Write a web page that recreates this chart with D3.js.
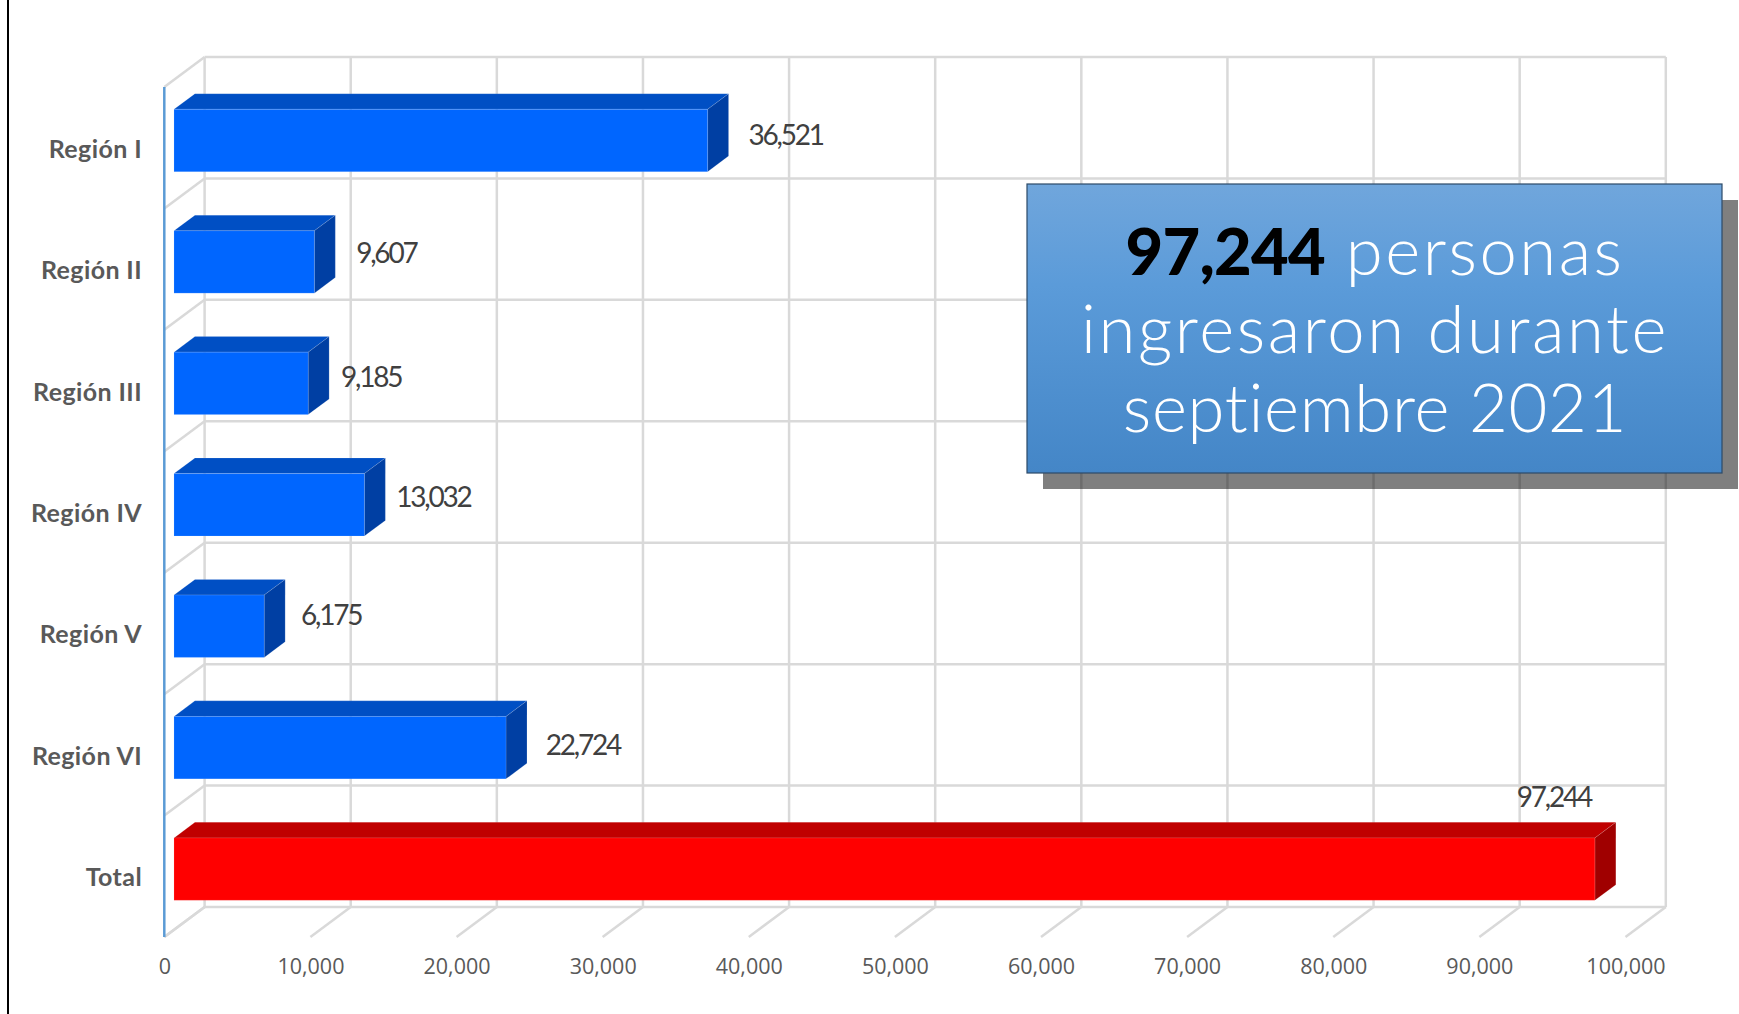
<!DOCTYPE html>
<html>
<head>
<meta charset="utf-8">
<script src="https://cdnjs.cloudflare.com/ajax/libs/d3/7.8.5/d3.min.js"></script>
<style>
html, body { margin: 0; padding: 0; background: #fff; }
svg { display: block; }
</style>
</head>
<body>
<svg id="chart" width="1739" height="1014"></svg>
<script>
// Horizontal 3D-look bar chart, people per region
const categories = ['Región I', 'Región II', 'Región III', 'Región IV', 'Región V', 'Región VI', 'Total'];
const values = [36521, 9607, 9185, 13032, 6175, 22724, 97244];
const xTicks = [0, 10000, 20000, 30000, 40000, 50000, 60000, 70000, 80000, 90000, 100000];

const DEPTH_X = 40.3, DEPTH_Y = 30;   // oblique offset front plane -> back wall
const BAR_FRONT = 0.24, BAR_BACK = 0.76;
const FONT_AXIS = '"Open Sans", "Noto Sans", sans-serif';
const FONT_GEO = 'Lato, "Open Sans", sans-serif';
const GRID = '#d9d9d9';

const svg = d3.select('#chart');

const x = d3.scaleLinear().domain([0, 100000]).range([164.3, 1625.5]);
const y = d3.scaleBand().domain(categories).range([87, 937]).paddingInner(0.486).paddingOuter(0.243);
const rows = d3.scaleLinear().domain([0, categories.length]).range([87, 937]);

// project a point of the front plane back by a depth fraction
const px = (v, d) => x(v) + d * DEPTH_X;
const py = (yy, d) => yy - d * DEPTH_Y;

const defs = svg.append('defs');
const grad = defs.append('linearGradient').attr('id', 'boxFill').attr('x1', 0).attr('x2', 0).attr('y1', 0).attr('y2', 1);
grad.append('stop').attr('offset', 0).attr('stop-color', '#70a6dc');
grad.append('stop').attr('offset', 0.35).attr('stop-color', '#5b9bd9');
grad.append('stop').attr('offset', 1).attr('stop-color', '#4486c7');

// frame line on the left of the slide
svg.append('line').attr('x1', 8).attr('x2', 8).attr('y1', 0).attr('y2', 1014)
    .attr('stroke', '#000').attr('stroke-width', 2);

// Grid: back wall, side wall, floor
const grid = svg.append('g').attr('fill', 'none').attr('stroke', GRID).attr('stroke-width', 2.5);
xTicks.forEach(t => {
    grid.append('line').attr('x1', px(t, 1)).attr('x2', px(t, 1)).attr('y1', py(rows(0), 1)).attr('y2', py(rows(7), 1));
    grid.append('line').attr('x1', px(t, 0)).attr('x2', px(t, 1)).attr('y1', rows(7)).attr('y2', py(rows(7), 1));
});
d3.range(categories.length + 1).forEach(i => {
    grid.append('line').attr('x1', px(0, 1)).attr('x2', px(100000, 1)).attr('y1', py(rows(i), 1)).attr('y2', py(rows(i), 1));
    grid.append('line').attr('x1', px(0, 0)).attr('x2', px(0, 1)).attr('y1', rows(i)).attr('y2', py(rows(i), 1));
});

// Bars, each one built from three faces
const bars = svg.append('g').attr('stroke', 'rgba(255,255,255,0.12)').attr('stroke-width', 1)
    .selectAll('g').data(categories).enter().append('g');
const isTotal = d => d === 'Total';
const val = d => values[categories.indexOf(d)];
const poly = pts => pts.map(p => p.join(',')).join(' ');

bars.append('polygon') // top
    .attr('points', d => {
        const t = y(d), v = val(d);
        return poly([[px(0, BAR_FRONT), py(t, BAR_FRONT)], [px(v, BAR_FRONT), py(t, BAR_FRONT)],
                     [px(v, BAR_BACK), py(t, BAR_BACK)], [px(0, BAR_BACK), py(t, BAR_BACK)]]);
    })
    .attr('fill', d => isTotal(d) ? '#c00000' : '#004fc4');
bars.append('polygon') // side
    .attr('points', d => {
        const t = y(d), b = t + y.bandwidth(), v = val(d);
        return poly([[px(v, BAR_FRONT), py(t, BAR_FRONT)], [px(v, BAR_BACK), py(t, BAR_BACK)],
                     [px(v, BAR_BACK), py(b, BAR_BACK)], [px(v, BAR_FRONT), py(b, BAR_FRONT)]]);
    })
    .attr('fill', d => isTotal(d) ? '#a00000' : '#003fa3');
bars.append('rect') // front
    .attr('x', px(0, BAR_FRONT))
    .attr('y', d => py(y(d), BAR_FRONT))
    .attr('width', d => x(val(d)) - x(0))
    .attr('height', y.bandwidth())
    .attr('fill', d => isTotal(d) ? '#ff0000' : '#0066ff');

// Value axis
const xAxis = svg.append('g').attr('transform', 'translate(0,937)')
    .call(d3.axisBottom(x).tickValues(xTicks).tickFormat(d3.format(',')).tickSize(0).tickPadding(22));
xAxis.select('.domain').remove();
xAxis.selectAll('text').attr('font-family', FONT_AXIS).attr('font-size', 21.5).attr('fill', '#595959');

// Category axis
const yAxis = svg.append('g').attr('transform', 'translate(142,2)')
    .call(d3.axisLeft(y).tickSize(0).tickPadding(0));
yAxis.select('.domain').remove();
yAxis.selectAll('text').attr('font-family', FONT_GEO).attr('font-weight', 700).attr('font-size', 25)
    .attr('letter-spacing', 0.4).attr('fill', '#595959');

svg.append('line').attr('x1', x(0)).attr('x2', x(0)).attr('y1', 87).attr('y2', 937)
    .attr('stroke', '#5b9bd5').attr('stroke-width', 2.5);

// Data labels, nudged by hand from the bar end like the source chart
const labelNudgeX = [57, 51, 42, 48, 46, 56, -62];
const labelNudgeY = [-13, -16, -13, -15, -18, -10, -79];
svg.append('g').selectAll('text').data(categories).enter().append('text')
    .attr('x', (d, i) => px(val(d), BAR_BACK) + labelNudgeX[i])
    .attr('y', (d, i) => py(y(d) + y.bandwidth() / 2, 0) + labelNudgeY[i])
    .attr('dy', '0.35em')
    .attr('text-anchor', 'middle')
    .attr('font-family', FONT_GEO).attr('font-size', 28).attr('font-weight', 400)
    .attr('letter-spacing', -2.2)
    .attr('fill', '#404040')
    .text(d => d3.format(',')(val(d)));

// Callout box
const box = svg.append('g');
box.append('rect').attr('x', 1043).attr('y', 200).attr('width', 695).attr('height', 289).attr('fill', '#000').attr('opacity', 0.5);
box.append('rect').attr('x', 1027).attr('y', 184).attr('width', 695).attr('height', 289)
    .attr('fill', 'url(#boxFill)').attr('stroke', '#2c4a68').attr('stroke-width', 1.2);
const boxText = box.append('text').attr('text-anchor', 'middle').attr('font-family', FONT_GEO)
    .attr('font-size', 67).attr('font-weight', 300).attr('fill', '#fff');
const l1 = boxText.append('tspan').attr('x', 1375).attr('y', 275);
l1.append('tspan').attr('font-weight', 900).attr('font-size', 65).attr('fill', '#000').attr('letter-spacing', -0.7).text('97,244');
l1.append('tspan').attr('letter-spacing', 2.5).text(' personas');
boxText.append('tspan').attr('x', 1375).attr('y', 353).attr('letter-spacing', 2.6).text('ingresaron durante');
boxText.append('tspan').attr('x', 1375).attr('y', 431.7).attr('letter-spacing', 0.7).text('septiembre 2021');
</script>
</body>
</html>
